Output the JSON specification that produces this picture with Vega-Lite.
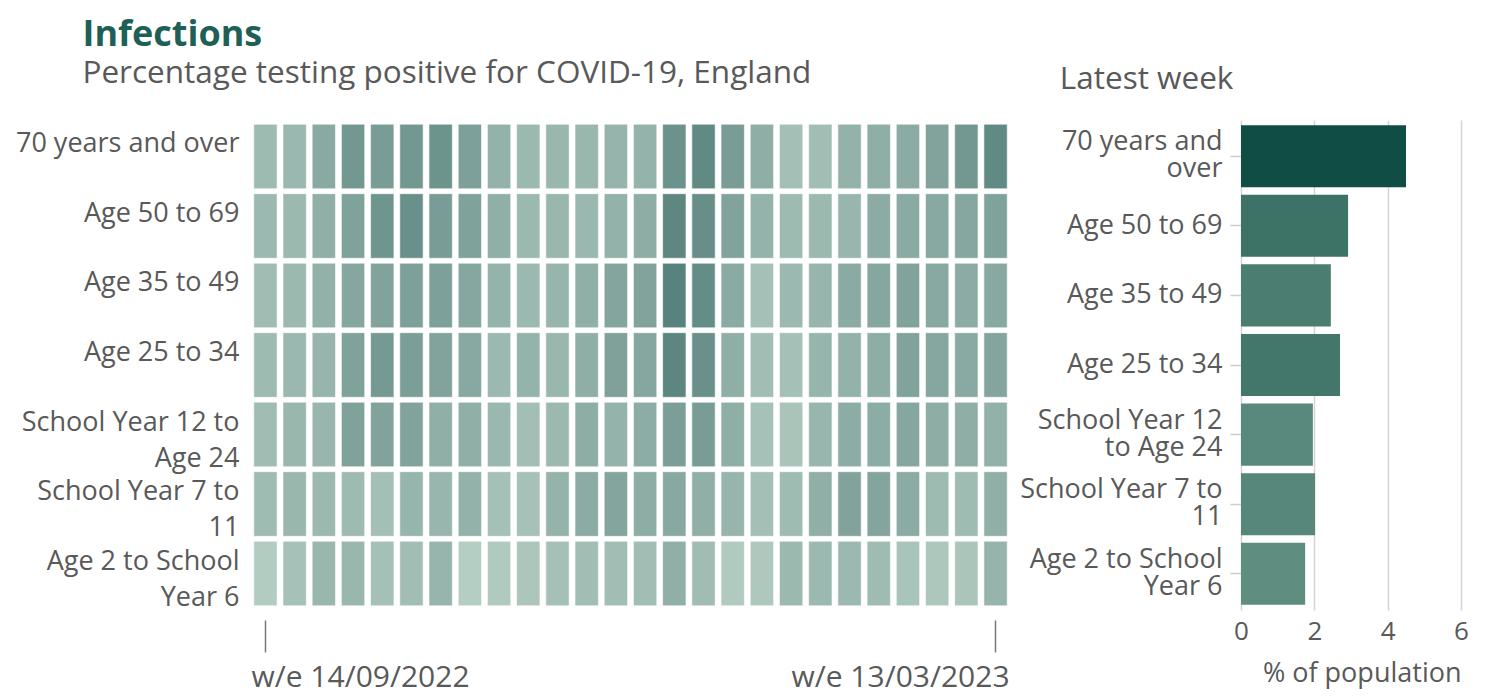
{
  "$schema": "https://vega.github.io/schema/vega-lite/v6.json",
  "background": "white",
  "padding": {"left": 15, "top": 16, "right": 5, "bottom": 0},
  "title": {"text": "Infections", "anchor": "start", "frame": "bounds", "dx": 67, "fontSize": 36, "fontWeight": "bold", "font": "Open Sans", "color": "#1e5f56", "offset": 4},
  "datasets": {
    "weekly": [
      {"group": "70 years and over", "week": 1, "value": 1.30}, {"group": "70 years and over", "week": 2, "value": 1.51}, {"group": "70 years and over", "week": 3, "value": 2.40}, {"group": "70 years and over", "week": 4, "value": 3.54}, {"group": "70 years and over", "week": 5, "value": 3.23}, {"group": "70 years and over", "week": 6, "value": 3.59}, {"group": "70 years and over", "week": 7, "value": 3.91}, {"group": "70 years and over", "week": 8, "value": 3.02}, {"group": "70 years and over", "week": 9, "value": 1.88}, {"group": "70 years and over", "week": 10, "value": 1.46}, {"group": "70 years and over", "week": 11, "value": 1.56}, {"group": "70 years and over", "week": 12, "value": 1.56}, {"group": "70 years and over", "week": 13, "value": 1.77}, {"group": "70 years and over", "week": 14, "value": 1.82}, {"group": "70 years and over", "week": 15, "value": 3.96}, {"group": "70 years and over", "week": 16, "value": 4.48}, {"group": "70 years and over", "week": 17, "value": 3.28}, {"group": "70 years and over", "week": 18, "value": 2.14}, {"group": "70 years and over", "week": 19, "value": 1.04}, {"group": "70 years and over", "week": 20, "value": 1.15}, {"group": "70 years and over", "week": 21, "value": 1.88}, {"group": "70 years and over", "week": 22, "value": 2.14}, {"group": "70 years and over", "week": 23, "value": 2.29}, {"group": "70 years and over", "week": 24, "value": 2.81}, {"group": "70 years and over", "week": 25, "value": 3.54}, {"group": "70 years and over", "week": 26, "value": 4.50},
      {"group": "Age 50 to 69", "week": 1, "value": 1.41}, {"group": "Age 50 to 69", "week": 2, "value": 1.46}, {"group": "Age 50 to 69", "week": 3, "value": 2.08}, {"group": "Age 50 to 69", "week": 4, "value": 2.92}, {"group": "Age 50 to 69", "week": 5, "value": 3.75}, {"group": "Age 50 to 69", "week": 6, "value": 4.06}, {"group": "Age 50 to 69", "week": 7, "value": 3.23}, {"group": "Age 50 to 69", "week": 8, "value": 2.92}, {"group": "Age 50 to 69", "week": 9, "value": 2.03}, {"group": "Age 50 to 69", "week": 10, "value": 1.46}, {"group": "Age 50 to 69", "week": 11, "value": 1.56}, {"group": "Age 50 to 69", "week": 12, "value": 1.51}, {"group": "Age 50 to 69", "week": 13, "value": 1.88}, {"group": "Age 50 to 69", "week": 14, "value": 2.19}, {"group": "Age 50 to 69", "week": 15, "value": 4.64}, {"group": "Age 50 to 69", "week": 16, "value": 4.22}, {"group": "Age 50 to 69", "week": 17, "value": 2.86}, {"group": "Age 50 to 69", "week": 18, "value": 1.82}, {"group": "Age 50 to 69", "week": 19, "value": 1.30}, {"group": "Age 50 to 69", "week": 20, "value": 1.46}, {"group": "Age 50 to 69", "week": 21, "value": 1.61}, {"group": "Age 50 to 69", "week": 22, "value": 2.29}, {"group": "Age 50 to 69", "week": 23, "value": 2.34}, {"group": "Age 50 to 69", "week": 24, "value": 2.45}, {"group": "Age 50 to 69", "week": 25, "value": 2.60}, {"group": "Age 50 to 69", "week": 26, "value": 2.92},
      {"group": "Age 35 to 49", "week": 1, "value": 1.20}, {"group": "Age 35 to 49", "week": 2, "value": 1.46}, {"group": "Age 35 to 49", "week": 3, "value": 1.98}, {"group": "Age 35 to 49", "week": 4, "value": 2.60}, {"group": "Age 35 to 49", "week": 5, "value": 2.81}, {"group": "Age 35 to 49", "week": 6, "value": 3.02}, {"group": "Age 35 to 49", "week": 7, "value": 3.02}, {"group": "Age 35 to 49", "week": 8, "value": 2.55}, {"group": "Age 35 to 49", "week": 9, "value": 1.82}, {"group": "Age 35 to 49", "week": 10, "value": 1.41}, {"group": "Age 35 to 49", "week": 11, "value": 1.72}, {"group": "Age 35 to 49", "week": 12, "value": 2.08}, {"group": "Age 35 to 49", "week": 13, "value": 2.71}, {"group": "Age 35 to 49", "week": 14, "value": 2.81}, {"group": "Age 35 to 49", "week": 15, "value": 4.95}, {"group": "Age 35 to 49", "week": 16, "value": 4.27}, {"group": "Age 35 to 49", "week": 17, "value": 2.34}, {"group": "Age 35 to 49", "week": 18, "value": 0.99}, {"group": "Age 35 to 49", "week": 19, "value": 1.41}, {"group": "Age 35 to 49", "week": 20, "value": 1.67}, {"group": "Age 35 to 49", "week": 21, "value": 2.34}, {"group": "Age 35 to 49", "week": 22, "value": 2.60}, {"group": "Age 35 to 49", "week": 23, "value": 2.81}, {"group": "Age 35 to 49", "week": 24, "value": 2.50}, {"group": "Age 35 to 49", "week": 25, "value": 2.29}, {"group": "Age 35 to 49", "week": 26, "value": 2.45},
      {"group": "Age 25 to 34", "week": 1, "value": 1.30}, {"group": "Age 25 to 34", "week": 2, "value": 1.51}, {"group": "Age 25 to 34", "week": 3, "value": 1.67}, {"group": "Age 25 to 34", "week": 4, "value": 2.92}, {"group": "Age 25 to 34", "week": 5, "value": 3.49}, {"group": "Age 25 to 34", "week": 6, "value": 3.13}, {"group": "Age 25 to 34", "week": 7, "value": 2.86}, {"group": "Age 25 to 34", "week": 8, "value": 2.50}, {"group": "Age 25 to 34", "week": 9, "value": 1.41}, {"group": "Age 25 to 34", "week": 10, "value": 1.82}, {"group": "Age 25 to 34", "week": 11, "value": 1.56}, {"group": "Age 25 to 34", "week": 12, "value": 2.14}, {"group": "Age 25 to 34", "week": 13, "value": 2.97}, {"group": "Age 25 to 34", "week": 14, "value": 2.55}, {"group": "Age 25 to 34", "week": 15, "value": 4.74}, {"group": "Age 25 to 34", "week": 16, "value": 4.06}, {"group": "Age 25 to 34", "week": 17, "value": 2.14}, {"group": "Age 25 to 34", "week": 18, "value": 1.15}, {"group": "Age 25 to 34", "week": 19, "value": 0.99}, {"group": "Age 25 to 34", "week": 20, "value": 1.72}, {"group": "Age 25 to 34", "week": 21, "value": 1.88}, {"group": "Age 25 to 34", "week": 22, "value": 2.19}, {"group": "Age 25 to 34", "week": 23, "value": 2.81}, {"group": "Age 25 to 34", "week": 24, "value": 2.55}, {"group": "Age 25 to 34", "week": 25, "value": 2.40}, {"group": "Age 25 to 34", "week": 26, "value": 2.70},
      {"group": "School Year 12 to Age 24", "week": 1, "value": 1.20}, {"group": "School Year 12 to Age 24", "week": 2, "value": 1.56}, {"group": "School Year 12 to Age 24", "week": 3, "value": 1.61}, {"group": "School Year 12 to Age 24", "week": 4, "value": 2.92}, {"group": "School Year 12 to Age 24", "week": 5, "value": 2.81}, {"group": "School Year 12 to Age 24", "week": 6, "value": 2.81}, {"group": "School Year 12 to Age 24", "week": 7, "value": 2.03}, {"group": "School Year 12 to Age 24", "week": 8, "value": 2.03}, {"group": "School Year 12 to Age 24", "week": 9, "value": 1.51}, {"group": "School Year 12 to Age 24", "week": 10, "value": 1.09}, {"group": "School Year 12 to Age 24", "week": 11, "value": 1.46}, {"group": "School Year 12 to Age 24", "week": 12, "value": 2.19}, {"group": "School Year 12 to Age 24", "week": 13, "value": 1.82}, {"group": "School Year 12 to Age 24", "week": 14, "value": 2.24}, {"group": "School Year 12 to Age 24", "week": 15, "value": 3.13}, {"group": "School Year 12 to Age 24", "week": 16, "value": 3.28}, {"group": "School Year 12 to Age 24", "week": 17, "value": 2.14}, {"group": "School Year 12 to Age 24", "week": 18, "value": 0.89}, {"group": "School Year 12 to Age 24", "week": 19, "value": 0.68}, {"group": "School Year 12 to Age 24", "week": 20, "value": 1.61}, {"group": "School Year 12 to Age 24", "week": 21, "value": 2.24}, {"group": "School Year 12 to Age 24", "week": 22, "value": 2.24}, {"group": "School Year 12 to Age 24", "week": 23, "value": 2.55}, {"group": "School Year 12 to Age 24", "week": 24, "value": 2.19}, {"group": "School Year 12 to Age 24", "week": 25, "value": 2.14}, {"group": "School Year 12 to Age 24", "week": 26, "value": 1.96},
      {"group": "School Year 7 to 11", "week": 1, "value": 1.25}, {"group": "School Year 7 to 11", "week": 2, "value": 1.56}, {"group": "School Year 7 to 11", "week": 3, "value": 1.46}, {"group": "School Year 7 to 11", "week": 4, "value": 1.30}, {"group": "School Year 7 to 11", "week": 5, "value": 1.04}, {"group": "School Year 7 to 11", "week": 6, "value": 1.72}, {"group": "School Year 7 to 11", "week": 7, "value": 1.61}, {"group": "School Year 7 to 11", "week": 8, "value": 1.88}, {"group": "School Year 7 to 11", "week": 9, "value": 0.99}, {"group": "School Year 7 to 11", "week": 10, "value": 0.89}, {"group": "School Year 7 to 11", "week": 11, "value": 1.82}, {"group": "School Year 7 to 11", "week": 12, "value": 2.29}, {"group": "School Year 7 to 11", "week": 13, "value": 2.71}, {"group": "School Year 7 to 11", "week": 14, "value": 2.19}, {"group": "School Year 7 to 11", "week": 15, "value": 2.50}, {"group": "School Year 7 to 11", "week": 16, "value": 2.08}, {"group": "School Year 7 to 11", "week": 17, "value": 1.67}, {"group": "School Year 7 to 11", "week": 18, "value": 1.04}, {"group": "School Year 7 to 11", "week": 19, "value": 1.25}, {"group": "School Year 7 to 11", "week": 20, "value": 2.08}, {"group": "School Year 7 to 11", "week": 21, "value": 2.86}, {"group": "School Year 7 to 11", "week": 22, "value": 2.71}, {"group": "School Year 7 to 11", "week": 23, "value": 2.29}, {"group": "School Year 7 to 11", "week": 24, "value": 1.30}, {"group": "School Year 7 to 11", "week": 25, "value": 1.25}, {"group": "School Year 7 to 11", "week": 26, "value": 2.02},
      {"group": "Age 2 to School Year 6", "week": 1, "value": 0.21}, {"group": "Age 2 to School Year 6", "week": 2, "value": 0.89}, {"group": "Age 2 to School Year 6", "week": 3, "value": 1.56}, {"group": "Age 2 to School Year 6", "week": 4, "value": 1.56}, {"group": "Age 2 to School Year 6", "week": 5, "value": 0.94}, {"group": "Age 2 to School Year 6", "week": 6, "value": 1.15}, {"group": "Age 2 to School Year 6", "week": 7, "value": 1.67}, {"group": "Age 2 to School Year 6", "week": 8, "value": 0.10}, {"group": "Age 2 to School Year 6", "week": 9, "value": 0.36}, {"group": "Age 2 to School Year 6", "week": 10, "value": 0.57}, {"group": "Age 2 to School Year 6", "week": 11, "value": 0.94}, {"group": "Age 2 to School Year 6", "week": 12, "value": 1.15}, {"group": "Age 2 to School Year 6", "week": 13, "value": 1.15}, {"group": "Age 2 to School Year 6", "week": 14, "value": 1.15}, {"group": "Age 2 to School Year 6", "week": 15, "value": 2.03}, {"group": "Age 2 to School Year 6", "week": 16, "value": 1.20}, {"group": "Age 2 to School Year 6", "week": 17, "value": 0.31}, {"group": "Age 2 to School Year 6", "week": 18, "value": 0.47}, {"group": "Age 2 to School Year 6", "week": 19, "value": 1.46}, {"group": "Age 2 to School Year 6", "week": 20, "value": 1.41}, {"group": "Age 2 to School Year 6", "week": 21, "value": 1.41}, {"group": "Age 2 to School Year 6", "week": 22, "value": 1.25}, {"group": "Age 2 to School Year 6", "week": 23, "value": 0.73}, {"group": "Age 2 to School Year 6", "week": 24, "value": 0.52}, {"group": "Age 2 to School Year 6", "week": 25, "value": 0.63}, {"group": "Age 2 to School Year 6", "week": 26, "value": 1.75}
    ]
  },
  "spacing": 9,
  "resolve": {"scale": {"color": "independent"}},
  "hconcat": [
    {
      "data": {"name": "weekly"},
      "width": 757,
      "height": 490,
      "title": {"text": "Percentage testing positive for COVID-19, England", "anchor": "start", "frame": "bounds", "dx": 67, "fontSize": 31.5, "fontWeight": "normal", "color": "#595959", "offset": 31},
      "mark": {"type": "rect", "fillOpacity": 0.66, "stroke": "white", "strokeWidth": 1, "strokeOpacity": 0.6},
      "encoding": {
        "x": {
          "field": "week", "type": "ordinal",
          "scale": {"paddingInner": 0.2, "paddingOuter": 0.06},
          "axis": {
            "values": [1, 26],
            "labelExpr": "datum.value == 1 ? 'w/e 14/09/2022' : 'w/e 13/03/2023'",
            "labelFlush": 40, "labelFlushOffset": 14, "labelAngle": 0, "labelLimit": 400,
            "domain": false, "ticks": true, "tickSize": 32, "tickColor": "#777777", "tickWidth": 1.5,
            "offset": 10, "labelFontSize": 30, "labelPadding": 10, "title": null
          }
        },
        "y": {
          "field": "group", "type": "nominal",
          "sort": ["70 years and over", "Age 50 to 69", "Age 35 to 49", "Age 25 to 34", "School Year 12 to Age 24", "School Year 7 to 11", "Age 2 to School Year 6"],
          "scale": {"paddingInner": 0.07, "paddingOuter": 0.06},
          "axis": {
            "labelExpr": "datum.value == 'School Year 12 to Age 24' ? ['School Year 12 to', 'Age 24'] : datum.value == 'School Year 7 to 11' ? ['School Year 7 to', '11'] : datum.value == 'Age 2 to School Year 6' ? ['Age 2 to School', 'Year 6'] : datum.value",
            "domain": false, "ticks": false, "labelPadding": 13, "labelFontSize": 27, "labelLineHeight": 36, "labelOffset": -12, "labelLimit": 400, "title": null
          }
        },
        "color": {
          "field": "value", "type": "quantitative",
          "scale": {"type": "linear", "domain": [0, 5], "range": ["#92b6a6", "#01413a"], "interpolate": "rgb"},
          "legend": null
        }
      }
    },
    {
      "data": {"name": "weekly"},
      "transform": [{"filter": "datum.week == 26"}],
      "width": 220,
      "height": 490,
      "title": {"text": "Latest week", "anchor": "start", "frame": "bounds", "dx": 40, "dy": 6, "fontSize": 31.5, "fontWeight": "normal", "color": "#595959", "offset": 31},
      "mark": {"type": "bar"},
      "encoding": {
        "y": {
          "field": "group", "type": "nominal",
          "sort": ["70 years and over", "Age 50 to 69", "Age 35 to 49", "Age 25 to 34", "School Year 12 to Age 24", "School Year 7 to 11", "Age 2 to School Year 6"],
          "scale": {"paddingInner": 0.108, "paddingOuter": 0.074},
          "axis": {
            "labelExpr": "datum.value == '70 years and over' ? ['70 years and', 'over'] : datum.value == 'School Year 12 to Age 24' ? ['School Year 12', 'to Age 24'] : datum.value == 'School Year 7 to 11' ? ['School Year 7 to', '11'] : datum.value == 'Age 2 to School Year 6' ? ['Age 2 to School', 'Year 6'] : datum.value",
            "labelOffset": {"condition": {"test": "indexof(['70 years and over', 'School Year 12 to Age 24', 'School Year 7 to 11', 'Age 2 to School Year 6'], datum.value) >= 0", "value": -14}, "value": 0},
            "domain": false, "ticks": true, "tickSize": 11, "tickColor": "#cccccc", "tickWidth": 1.5, "labelPadding": 8, "labelFontSize": 27, "labelLineHeight": 27, "labelLimit": 400, "title": null
          }
        },
        "x": {
          "field": "value", "type": "quantitative",
          "scale": {"domain": [0, 6], "nice": false},
          "axis": {
            "values": [0, 2, 4, 6], "domain": false, "ticks": false, "grid": true, "gridColor": "#d4d4d4", "gridWidth": 1.5,
            "labelFontSize": 26, "labelPadding": 8, "labelFlush": false,
            "title": "% of population", "titleFontSize": 27, "titleFontWeight": "normal", "titlePadding": 16, "titleAnchor": "end"
          }
        },
        "color": {
          "field": "value", "type": "quantitative",
          "scale": {"type": "linear", "domain": [0, 5], "range": ["#92b6a6", "#01413a"], "interpolate": "rgb"},
          "legend": null
        }
      }
    }
  ],
  "config": {
    "view": {"stroke": null},
    "font": "Open Sans",
    "axis": {"labelFont": "Open Sans", "titleFont": "Open Sans", "labelColor": "#595959", "titleColor": "#595959"},
    "title": {"font": "Open Sans"}
  }
}
